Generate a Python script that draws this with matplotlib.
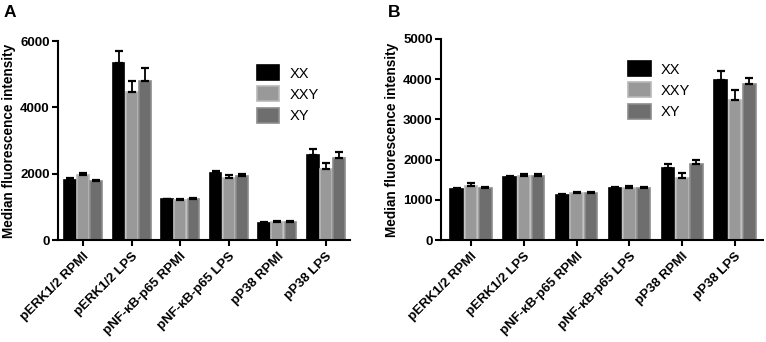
import numpy as np
import matplotlib
matplotlib.use("Agg")
import matplotlib.pyplot as plt

plt.rcParams["font.family"] = ["Liberation Sans", "DejaVu Sans"]
plt.rcParams["font.weight"] = "bold"

CATEGORIES = ["pERK1/2 RPMI", "pERK1/2 LPS", "pNF-κB-p65 RPMI",
              "pNF-κB-p65 LPS", "pP38 RPMI", "pP38 LPS"]
GROUPS = ["XX", "XXY", "XY"]

# panel A
A_XX = [1810, 5330, 1230, 2030, 530, 2570]
A_XXY = [1960, 4470, 1220, 1880, 540, 2140]
A_XY = [1770, 4800, 1230, 1940, 560, 2480]
A_XX_ERR = [60, 380, 20, 50, 20, 170]
A_XXY_ERR = [50, 320, 30, 70, 30, 190]
A_XY_ERR = [40, 380, 30, 60, 30, 190]

# panel B
B_XX = [1260, 1580, 1130, 1300, 1790, 3980]
B_XXY = [1355, 1595, 1170, 1300, 1555, 3495]
B_XY = [1285, 1595, 1170, 1300, 1885, 3870]
B_XX_ERR = [25, 25, 15, 15, 110, 220]
B_XXY_ERR = [55, 55, 35, 35, 110, 230]
B_XY_ERR = [35, 55, 30, 30, 105, 160]

FILLS = ["#000000", "#999999", "#6e6e6e"]
EDGES = ["#000000", "#b8b8b8", "#8c8c8c"]


def draw_panel(ax, series, errs, ymax, yticks, xlim, legend_xy):
    x = np.arange(len(CATEGORIES))
    w = 0.24
    for i, (vals, err) in enumerate(zip(series, errs)):
        pos = x + (i - 1) * (w + 0.03)
        ax.bar(pos, vals, width=w, color=FILLS[i], edgecolor=EDGES[i],
               linewidth=1.2, label=GROUPS[i], zorder=2)
        ax.errorbar(pos, vals, yerr=[np.zeros(len(vals)), err], fmt="none",
                    ecolor="black", elinewidth=1.3, capsize=3, capthick=1.6,
                    zorder=3)
    ax.set_xlim(*xlim)
    ax.set_ylim(0, ymax)
    ax.set_yticks(yticks)
    ax.set_xticks(x)
    ax.set_xticklabels(CATEGORIES, rotation=45, ha="right",
                       rotation_mode="anchor", fontsize=9.5, fontweight="bold")
    ax.tick_params(axis="y", labelsize=9.5, width=1.5, length=4, pad=2)
    ax.tick_params(axis="x", width=1.5, length=4)
    for lab in ax.get_yticklabels():
        lab.set_fontweight("bold")
    ax.set_ylabel("Median fluorescence intensity", fontsize=9.8,
                  fontweight="bold", labelpad=3)
    ax.spines["top"].set_visible(False)
    ax.spines["right"].set_visible(False)
    ax.spines["left"].set_linewidth(1.5)
    ax.spines["bottom"].set_linewidth(1.5)
    leg = ax.legend(loc="upper left", bbox_to_anchor=legend_xy, frameon=False,
                    fontsize=10.5, handlelength=1.55, handleheight=1.2,
                    labelspacing=0.4, handletextpad=0.7)
    for t in leg.get_texts():
        t.set_fontweight("normal")


fig = plt.figure(figsize=(7.66, 3.42), dpi=100)
axA = fig.add_axes([0.0757, 0.298, 0.3813, 0.582])
axB = fig.add_axes([0.5757, 0.298, 0.4203, 0.588])

draw_panel(axA, [A_XX, A_XXY, A_XY], [A_XX_ERR, A_XXY_ERR, A_XY_ERR],
           6000, [0, 2000, 4000, 6000], (-0.52, 5.5), (0.635, 0.945))
draw_panel(axB, [B_XX, B_XXY, B_XY], [B_XX_ERR, B_XXY_ERR, B_XY_ERR],
           5000, [0, 1000, 2000, 3000, 4000, 5000], (-0.57, 5.53), (0.54, 0.955))

fig.text(0.005, 0.985, "A", fontsize=12.5, fontweight="bold", va="top")
fig.text(0.507, 0.985, "B", fontsize=12.5, fontweight="bold", va="top")

fig.savefig("out.png", dpi=100)
